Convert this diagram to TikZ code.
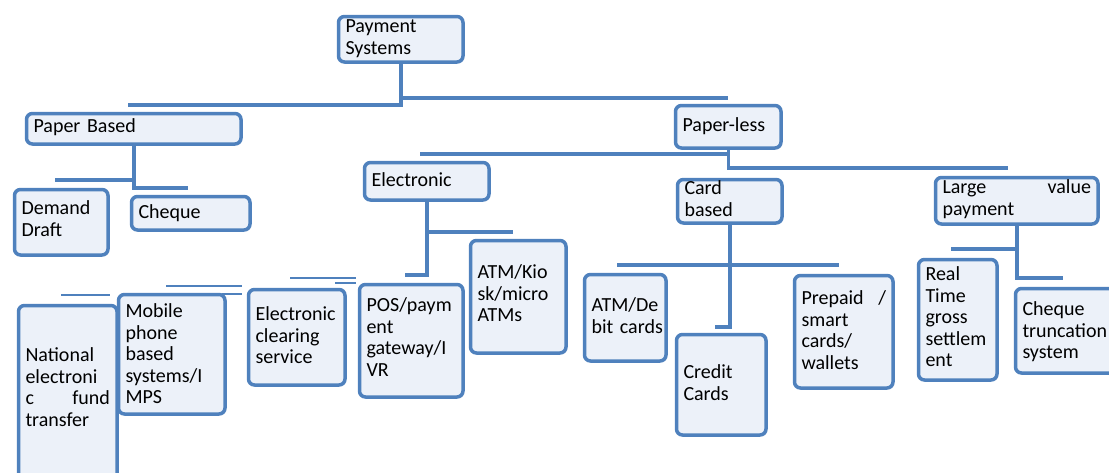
\documentclass[tikz,border=0pt]{standalone}
\usepackage{fontspec}
\setmainfont{Carlito}

\definecolor{boxline}{RGB}{79,129,189}
\definecolor{boxfill}{RGB}{236,241,249}

\tikzset{
    pbox/.style={draw=boxline, fill=boxfill, line width=3.5pt, rounded corners=6pt,
        anchor=north west, inner xsep=7pt, inner ysep=0pt, align=left,
        font=\fontsize{20}{21.5}\selectfont},
    link/.style={draw=boxline, line width=3.5pt},
    stub/.style={draw=boxline, line width=2pt}
}

\begin{document}
\begin{tikzpicture}[x=1pt, y=-1pt]

    \useasboundingbox (0,0) rectangle (1109,472);

    % Boxes: name / left / top / right / bottom / first baseline / text
    \foreach \nm/\xl/\yt/\xr/\yb/\bl/\txt in {
        ps/335/13/463/62/31/{Payment\\Systems},
        pb/23/110/241/144/131/{Paper Based},
        pless/672/102/781/148/130/{Paper-less},
        dd/11/186/108/255/213/{Demand\\Draft},
        chq/128/193/250/230/217/{Cheque},
        el/361/159/489/200/185/{Electronic},
        cb/674/176/782/223/193/{Card\\based},
        lv/932/174/1098/224/192/{Large\hfill value\\payment},
        neft/15/302/117/480/360/{National\\electroni\\c\hfill fund\hspace*{6pt}\\transfer},
        mob/115/291/225/414/316/{Mobile\\phone\\based\\systems/I\\MPS},
        ecs/245/286/345/385/319/{Electronic\\clearing\\service},
        pos/356/281/463/397/310/{POS/paym\\ent\\gateway/I\\VR},
        kiosk/467/237/566/353/277/{ATM/Kio\\sk/micro\\ATMs},
        debit/581/271/666/361/310/{ATM/De\\\mbox{bit cards}},
        credit/673/331/766/435/377/{Credit\\Cards},
        prep/791/272/893/388/303/{Prepaid\hfill /\\smart\\cards/\\wallets},
        rtgs/915/256/997/380/279/{Real\\Time\\gross\\settlem\\ent},
        cts/1012/285/1118/373/314/{Cheque\\truncation\\system}
    }
    {
        \pgfmathsetmacro\wdt{\xr-\xl-17.5}
        \pgfmathsetmacro\hgt{\bl-\yt-1.75}
        \pgfmathsetmacro\dpt{\yb-1.75-\bl}
        \node[pbox, text width=\wdt pt, text height=\hgt pt, text depth=\dpt pt]
            (\nm) at (\xl+1.75,\yt+1.75) {\txt};
    }

    % Top level
    \draw[link] (ps.south) |- (128,105);
    \draw[link] (ps.south) |- ([yshift=6pt]pless.north);

    % Paper based
    \draw[link] (pb.south) |- (55,180);
    \draw[link] (pb.south) |- (188,188);

    % Paper-less
    \draw[link] (pless.south) |- (420,154);
    \draw[link] (pless.south) |- (1008,168);

    % Electronic
    \draw[link] (el.south) |- (513,232);
    \draw[link] (el.south) |- (405,275);
    \draw[stub] (290,278) -- (356,278);
    \draw[stub] (335,283) -- (356,283);
    \draw[stub] (166,286) -- (242,286);
    \draw[stub] (222,294) -- (242,294);
    \draw[stub] (61,295) -- (110,295);

    % Card based
    \draw[link] (cb.south) |- (617,265);
    \draw[link] (cb.south) |- (839,265);
    \draw[link] (cb.south) |- (715,327);

    % Large value payment
    \draw[link] (lv.south) |- (951,249);
    \draw[link] (lv.south) |- (1063,278);

\end{tikzpicture}
\end{document}
